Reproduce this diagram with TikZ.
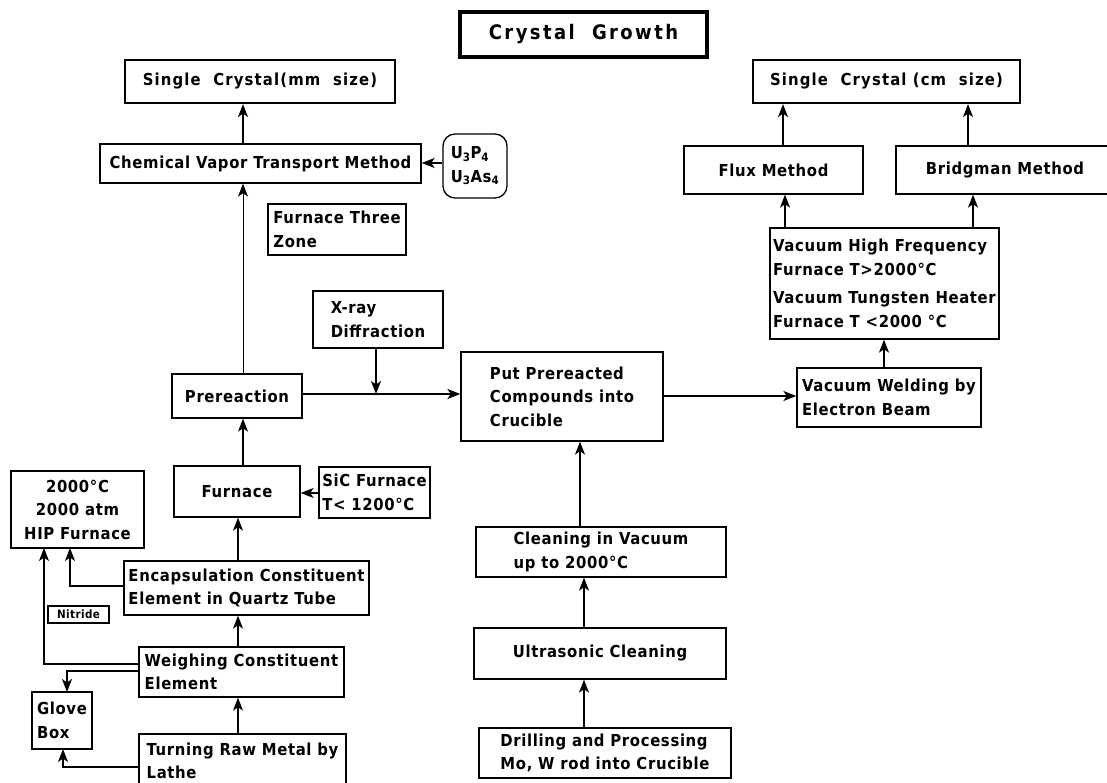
\documentclass[tikz,border=0pt]{standalone}
\usepackage{fontspec}
\setmainfont{DejaVu Sans Condensed}[LetterSpace=4]
\usetikzlibrary{arrows.meta}
\newcommand\bnode[7][]{%
  \pgfmathsetmacro\bcx{(#3+#5)/2}%
  \pgfmathsetmacro\bcy{(#4+#6)/2}%
  \pgfmathsetmacro\bw{#5-#3}%
  \pgfmathsetmacro\bh{#6-#4}%
  \node[box,minimum width=\bw pt,minimum height=\bh pt,#1] (#2) at (\bcx,\bcy) {#7};}
\tikzset{
  box/.style={draw, line width=1.3pt, align=left, inner sep=2pt,
    font=\fontsize{16.5}{23.5}\selectfont\bfseries},
  heavy/.style={line width=2.2pt, font=\fontsize{16.5}{20}\selectfont\bfseries\addfontfeatures{LetterSpace=7}},
  titlebox/.style={line width=4pt, font=\fontsize{20}{22}\selectfont\bfseries\addfontfeatures{LetterSpace=12}},
  small/.style={line width=1.2pt, font=\fontsize{11.5}{12}\selectfont\bfseries, inner sep=1pt},
  arr/.style={line width=1.4pt, -{Stealth[length=13pt,width=10pt,inset=3.5pt]}},
  thinarr/.style={line width=0.8pt, -{Stealth[length=13pt,width=10pt,inset=3.5pt]}},
}
\begin{document}
\begin{tikzpicture}[x=1pt,y=-1pt]
\useasboundingbox (0,0) rectangle (1107,783);
\clip (0,0) rectangle (1107,783);
% boxes
\bnode[titlebox]{title}{460}{12}{707}{57}{Crystal\ \ Growth}
\bnode[heavy]{mm}{125}{60}{395}{103}{Single\ \ Crystal(mm\ \ size)}
\bnode{cvt}{100}{144}{421}{183}{Chemical Vapor Transport Method}
\bnode[rounded corners=12pt]{u3}{443}{134}{507}{198}{U\textsubscript{3}P\textsubscript{4}\\U\textsubscript{3}As\textsubscript{4}}
\bnode{ftz}{268}{204}{406}{255}{Furnace Three\\Zone}
\bnode[heavy]{cm}{753}{60}{1020}{103}{Single\ \ Crystal (cm\ \ size)}
\bnode{flux}{684}{146}{863}{194}{Flux Method}
\bnode{bridg}{896}{146}{1114}{194}{Bridgman Method}
\bnode{hf}{770}{228}{999}{339}{Vacuum High Frequency\\Furnace T>2000°C\\[5pt]Vacuum Tungsten Heater\\Furnace T <2000 °C}
\bnode{weld}{797}{368}{981}{427}{Vacuum Welding by\\Electron Beam}
\bnode{put}{461}{352}{663}{441}{Put Prereacted\\Compounds into\\Crucible}
\bnode{pre}{172}{374}{302}{418}{Prereaction}
\bnode{xray}{313}{291}{443}{348}{X-ray\\Diffraction}
\bnode{furn}{174}{466}{300}{517}{Furnace}
\bnode{sic}{319}{467}{430}{518}{SiC Furnace\\T< 1200°C}
\bnode[align=center]{hip}{11}{471}{144}{548}{2000°C\\2000 atm\\HIP Furnace}
\bnode{encap}{124}{561}{369}{615}{Encapsulation Constituent\\Element in Quartz Tube}
\bnode[small]{nit}{48}{606}{109}{623}{Nitride}
\bnode{weigh}{139}{647}{344}{697}{Weighing Constituent\\Element}
\bnode{glove}{32}{692}{92}{749}{Glove\\Box}
\bnode{turn}{139}{734}{346}{811}{Turning Raw Metal by\\Lathe\\\mbox{}}
\bnode{clean}{476}{527}{726}{577}{Cleaning in Vacuum\\up to 2000°C}
\bnode{ultra}{474}{628}{726}{679}{Ultrasonic Cleaning}
\bnode{drill}{479}{728}{731}{778}{Drilling and Processing\\Mo, W rod into Crucible}
% helper coordinates
\coordinate (c243) at (243,0);
\coordinate (c238) at (238,0);
\coordinate (c376) at (376,0);
\coordinate (c580) at (580,0);
\coordinate (c584) at (584,0);
\coordinate (c884) at (884,0);
\coordinate (c785) at (785,0);
\coordinate (c973) at (973,0);
\coordinate (c783) at (783,0);
\coordinate (c968) at (968,0);
\coordinate (xr) at (376,394);
\coordinate (h70) at (70,548);
\coordinate (h44) at (44,548);
\coordinate (g67) at (67,692);
\coordinate (g63) at (63,749);
\coordinate (r163) at (0,163);
\coordinate (r493) at (0,493);
\coordinate (r394) at (0,394);
\coordinate (r396) at (0,396);
\coordinate (r586) at (0,586);
\coordinate (r664) at (0,664);
\coordinate (r671) at (0,671);
\coordinate (r767) at (0,767);
% connectors
\draw[arr] (cvt.north -| c243) -- (mm.south -| c243);
\draw[arr] (u3.west |- r163) -- (cvt.east |- r163);
\draw[thinarr] (pre.north -| c243) -- (cvt.south -| c243);
\draw[arr] (furn.north -| c243) -- (pre.south -| c243);
\draw[arr] (sic.west |- r493) -- (furn.east |- r493);
\draw[arr] (encap.north -| c238) -- (furn.south -| c238);
\draw[arr] (weigh.north -| c238) -- (encap.south -| c238);
\draw[arr] (turn.north -| c238) -- (weigh.south -| c238);
\draw[arr] (encap.west |- r586) -| (h70);
\draw[arr] (weigh.west |- r664) -| (h44);
\draw[arr] (weigh.west |- r671) -| (g67);
\draw[arr] (turn.west |- r767) -| (g63);
\draw[arr, line width=1.8pt] (pre.east |- r394) -- (put.west |- r394);
\draw[arr] (xray.south -| c376) -- (xr);
\draw[arr] (put.east |- r396) -- (weld.west |- r396);
\draw[arr] (weld.north -| c884) -- (hf.south -| c884);
\draw[arr] (hf.north -| c785) -- (flux.south -| c785);
\draw[arr] (hf.north -| c973) -- (bridg.south -| c973);
\draw[arr] (flux.north -| c783) -- (cm.south -| c783);
\draw[arr] (bridg.north -| c968) -- (cm.south -| c968);
\draw[arr] (clean.north -| c580) -- (put.south -| c580);
\draw[arr] (ultra.north -| c584) -- (clean.south -| c584);
\draw[arr] (drill.north -| c584) -- (ultra.south -| c584);
\end{tikzpicture}
\end{document}
